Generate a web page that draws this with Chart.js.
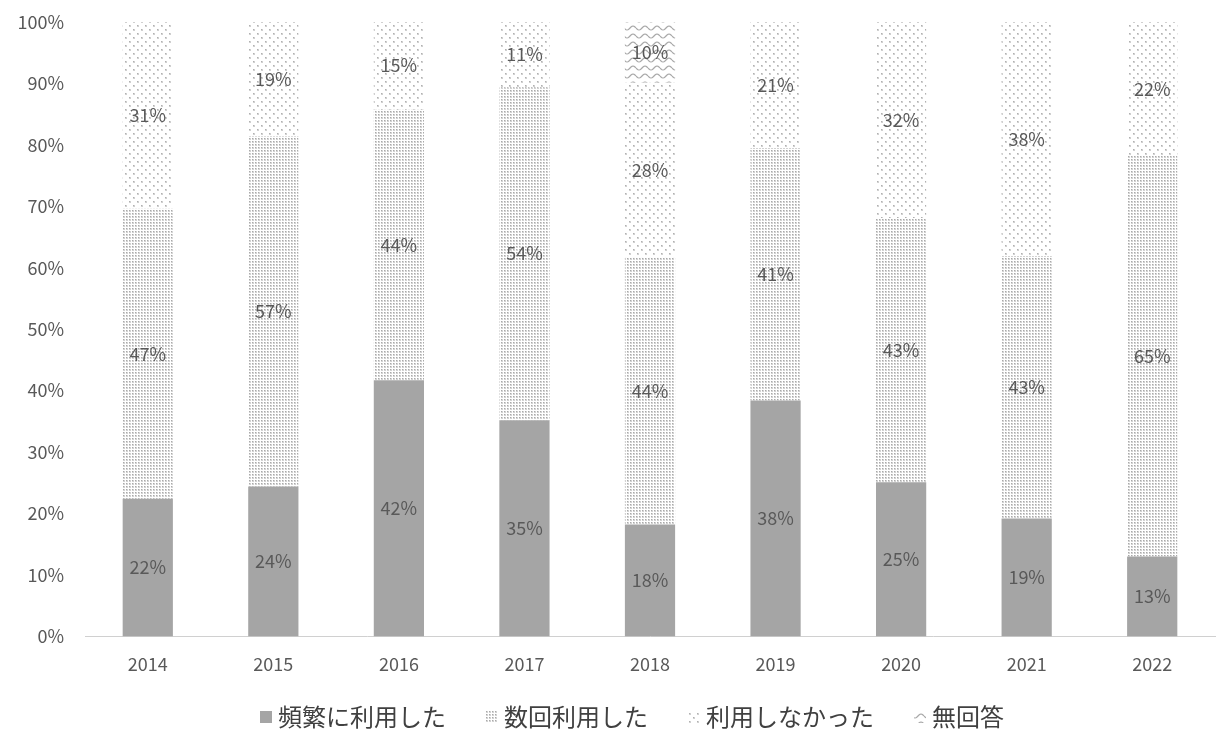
<!DOCTYPE html>
<html>
<head>
<meta charset="utf-8">
<script src="https://cdn.jsdelivr.net/npm/chart.js@4"></script>
<style>
  html, body { margin: 0; padding: 0; background: #fff; }
  #wrap { width: 1217px; height: 736px; }
</style>
</head>
<body>
<div id="wrap"><canvas id="chart" width="1217" height="736"></canvas></div>
<script>
'use strict';

// data (percent of respondents)
let years = ['2014', '2015', '2016', '2017', '2018', '2019', '2020', '2021', '2022'];
let seriesNames = ['頻繁に利用した', '数回利用した', '利用しなかった', '無回答'];
let oftenUsed = [22.4, 24.4, 41.7, 35.2, 18.2, 38.4, 25.1, 19.2, 13.0];
let fewTimes = [47.2, 57.0, 44.0, 54.2, 43.5, 41.1, 43.0, 42.7, 65.3];
let notUsed = [30.5, 18.6, 14.5, 10.6, 28.4, 20.5, 31.9, 38.1, 21.7];
let noAnswer = [0, 0, 0, 0, 9.9, 0, 0, 0, 0];
let yTicks = [0, 10, 20, 30, 40, 50, 60, 70, 80, 90, 100];

const FONT = '"Noto Sans CJK JP", "Noto Sans", sans-serif';
const TEXT = '#595959';

function makeTile(w, h, draw) {
  let c = document.createElement('canvas');
  c.width = w;
  c.height = h;
  let g = c.getContext('2d');
  g.fillStyle = '#ffffff';
  g.fillRect(0, 0, w, h);
  draw(g);
  return document.getElementById('chart').getContext('2d').createPattern(c, 'repeat');
}

// dense dot texture
let densePattern = makeTile(3, 3, g => {
  g.fillStyle = '#d2d2d2';
  g.fillRect(0, 0, 2, 2);
  g.fillStyle = '#a9a9a9';
  g.fillRect(0, 0, 1, 1);
});

// sparse dot texture
let sparsePattern = makeTile(8, 8, g => {
  g.fillStyle = '#d0d0d0';
  g.fillRect(1, 1, 2, 2);
  g.fillRect(5, 5, 2, 2);
  g.fillStyle = '#b0b0b0';
  g.fillRect(1, 1, 1, 1);
  g.fillRect(5, 5, 1, 1);
});

// wavy line texture
let wavePattern = makeTile(12, 8, g => {
  g.strokeStyle = '#a8a8a8';
  g.lineWidth = 1.2;
  g.beginPath();
  for (let x = 0; x <= 12; x++) {
    let y = 4 + 2 * Math.sin(x / 12 * Math.PI * 2);
    if (x === 0) g.moveTo(x, y); else g.lineTo(x, y);
  }
  g.stroke();
});

let fills = ['#a5a5a5', densePattern, sparsePattern, wavePattern];
let allData = [oftenUsed, fewTimes, notUsed, noAnswer];

// draws the percent labels in the middle of each segment
let segmentLabels = {
  id: 'segmentLabels',
  afterDatasetsDraw(chart) {
    let c = chart.ctx;
    c.save();
    c.font = '18px ' + FONT;
    c.fillStyle = TEXT;
    c.textAlign = 'center';
    c.textBaseline = 'middle';
    chart.data.datasets.forEach((ds, i) => {
      let meta = chart.getDatasetMeta(i);
      meta.data.forEach((bar, j) => {
        let v = ds.data[j];
        if (!v) return;
        let mid = (bar.y + bar.base) / 2;
        c.fillText(Math.round(v) + '%', bar.x, mid);
      });
    });
    c.restore();
  }
};

// legend row under the axis, drawn by hand so the spacing matches
let bottomLegend = {
  id: 'bottomLegend',
  afterDraw(chart) {
    let c = chart.ctx;
    let box = 12, gap = 6, itemGap = 40, y = 717;
    c.save();
    c.font = '24px ' + FONT;
    c.textBaseline = 'middle';
    let items = chart.data.datasets.map(ds => ({ ds: ds, w: c.measureText(ds.label).width }));
    let total = items.reduce((s, it) => s + box + gap + it.w, 0) + itemGap * (items.length - 1);
    let x = 632 - total / 2;
    items.forEach(it => {
      c.fillStyle = it.ds.backgroundColor;
      c.fillRect(x, y - box / 2, box, box);
      x += box + gap;
      c.fillStyle = '#404040';
      c.fillText(it.ds.label, x, y);
      x += it.w + itemGap;
    });
    c.restore();
  }
};

let datasets = seriesNames.map((name, i) => ({
  label: name,
  data: allData[i],
  backgroundColor: fills[i],
  borderWidth: 0,
  categoryPercentage: 1,
  barPercentage: 0.4
}));

let chartObject = new Chart(document.getElementById('chart'), {
  type: 'bar',
  data: { labels: years, datasets: datasets },
  plugins: [segmentLabels, bottomLegend],
  options: {
    responsive: false,
    animation: false,
    layout: { padding: { top: 22, right: 2, left: 0, bottom: 44 } },
    scales: {
      x: {
        stacked: true,
        grid: { display: false, drawTicks: false },
        border: { display: true, color: '#d0d0d0' },
        ticks: { color: TEXT, font: { family: FONT, size: 18 }, padding: 17 }
      },
      y: {
        stacked: true,
        min: 0,
        max: 100,
        afterBuildTicks: s => { s.ticks = yTicks.map(v => ({ value: v })); },
        afterFit: s => {
          s.width = 85;
          s.paddingTop = 0;
          s.paddingBottom = 0;
        },
        grid: { display: false, drawTicks: false },
        border: { display: false },
        ticks: {
          color: TEXT,
          font: { family: FONT, size: 18 },
          padding: 21,
          callback: v => v + '%'
        }
      }
    },
    plugins: {
      tooltip: { enabled: false },
      legend: { display: false }
    }
  }
});
</script>
</body>
</html>
